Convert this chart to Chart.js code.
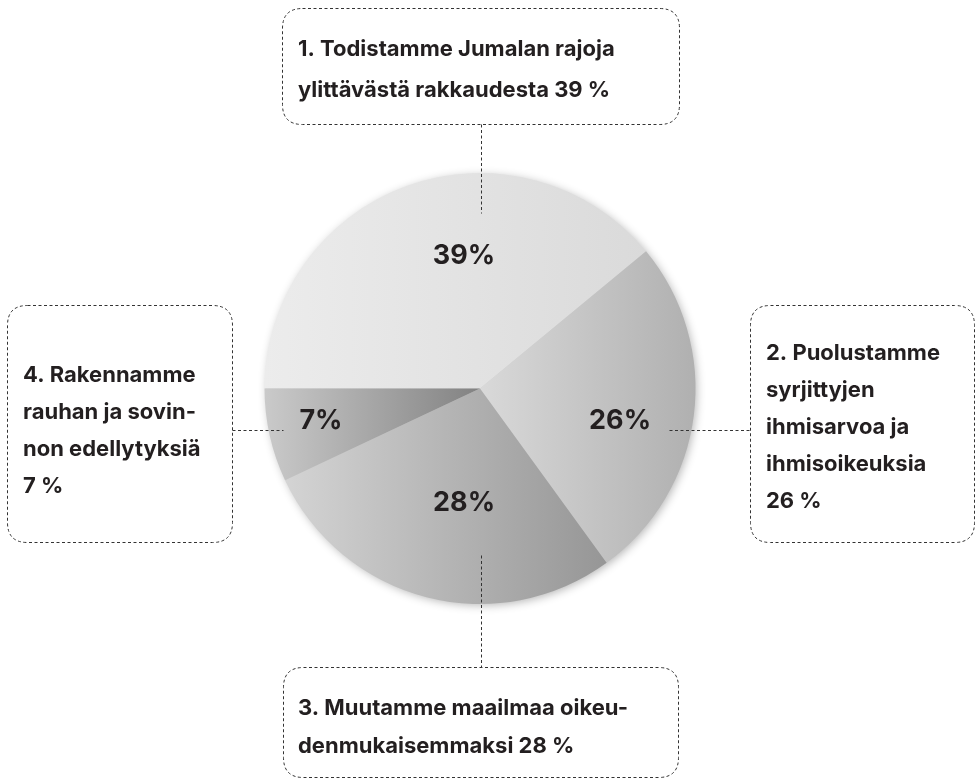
<!DOCTYPE html>
<html lang="fi">
<head>
<meta charset="utf-8">
<title>Painopisteet</title>
<script src="https://cdn.jsdelivr.net/npm/chart.js@4.4.1/dist/chart.umd.min.js"></script>
<style>
  html, body { margin: 0; padding: 0; background: #fff; }
  #wrap { width: 978px; height: 778px; }
</style>
</head>
<body>
<div id="wrap"><canvas id="chartPainopisteet" width="978" height="778"></canvas></div>
<script>
/* Painopisteet — piirakka ja selitelaatikot */

const nimet = [
  "Todistamme Jumalan rajoja ylittävästä rakkaudesta",
  "Puolustamme syrjittyjen ihmisarvoa ja ihmisoikeuksia",
  "Muutamme maailmaa oikeudenmukaisemmaksi",
  "Rakennamme rauhan ja sovinnon edellytyksiä",
];
const osuudet = [39, 26, 28, 7];
const tekstiRivit = [
  ["1. Todistamme Jumalan rajoja", "ylittävästä rakkaudesta 39 %"],
  ["2. Puolustamme", "syrjittyjen", "ihmisarvoa ja", "ihmisoikeuksia", "26 %"],
  ["3. Muutamme maailmaa oikeu-", "denmukaisemmaksi 28 %"],
  ["4. Rakennamme", "rauhan ja sovin-", "non edellytyksiä", "7 %"],
];

const vaaleat = ["#ececec", "#d9d9d9", "#d4d4d4", "#cacaca"];
const tummat = ["#dadada", "#b0b0b0", "#969696", "#828282"];
const TEKSTI = "#231f20";
const FONTTI = "Inter, 'Noto Sans', sans-serif";
const KIERTO = 270;

// prosenttien paikka suhteessa keskipisteeseen (säteen osina)
const PROSENTTI_PAIKKA = [[-0.074, -0.617], [0.65, 0.148], [-0.074, 0.529], [-0.738, 0.148]];

// selitelaatikot ja katkoviivat
const LAATIKOT = [
  { x: 282, y: 8, w: 397, h: 116, tx: 298, ty: 56, rivi: 41, viiva: [481, 124, 481, 213] },
  { x: 750, y: 305, w: 224, h: 237, tx: 766, ty: 360, rivi: 37, viiva: [669, 430, 750, 430] },
  { x: 283, y: 667, w: 395, h: 110, tx: 298, ty: 715, rivi: 38, viiva: [481, 555, 481, 667] },
  { x: 7, y: 305, w: 225, h: 237, tx: 23, ty: 382, rivi: 37, viiva: [232, 430, 283, 430] },
];

function liukuvari(ctx) {
  const chart = ctx.chart;
  const area = chart.chartArea;
  const i = ctx.dataIndex;
  if (!area) return vaaleat[i];
  const cx = (area.left + area.right) / 2;
  const r = Math.min(area.width, area.height) / 2;
  const summa = osuudet.reduce((a, b) => a + b, 0);
  let alku = (KIERTO - 90) * Math.PI / 180;
  for (let k = 0; k < i; k++) alku += (osuudet[k] / summa) * 2 * Math.PI;
  const loppu = alku + (osuudet[i] / summa) * 2 * Math.PI;
  let minX = cx, maxX = cx;
  for (let k = 0; k <= 60; k++) {
    const x = cx + r * Math.cos(alku + ((loppu - alku) * k) / 60);
    minX = Math.min(minX, x);
    maxX = Math.max(maxX, x);
  }
  const g = chart.ctx.createLinearGradient(minX, 0, maxX, 0);
  g.addColorStop(0, vaaleat[i]);
  g.addColorStop(1, tummat[i]);
  return g;
}

function pyoristettyLaatikko(c, x, y, w, h, r) {
  c.beginPath();
  c.moveTo(x + r, y);
  c.lineTo(x + w - r, y);
  c.quadraticCurveTo(x + w, y, x + w, y + r);
  c.lineTo(x + w, y + h - r);
  c.quadraticCurveTo(x + w, y + h, x + w - r, y + h);
  c.lineTo(x + r, y + h);
  c.quadraticCurveTo(x, y + h, x, y + h - r);
  c.lineTo(x, y + r);
  c.quadraticCurveTo(x, y, x + r, y);
  c.closePath();
}

const varjo = {
  id: "varjo",
  beforeDatasetsDraw(chart) {
    const arc = chart.getDatasetMeta(0).data[0];
    if (!arc) return;
    const c = chart.ctx;
    c.save();
    c.shadowColor = "rgba(0,0,0,0.3)";
    c.shadowBlur = 10;
    c.shadowOffsetX = 2;
    c.shadowOffsetY = 2;
    c.fillStyle = "#d0d0d0";
    c.beginPath();
    c.arc(arc.x, arc.y, arc.outerRadius - 1, 0, Math.PI * 2);
    c.fill();
    c.restore();
  },
};

const selitteet = {
  id: "selitteet",
  afterDatasetsDraw(chart) {
    const c = chart.ctx;
    const meta = chart.getDatasetMeta(0);
    const arc = meta.data[0];
    c.save();
    // prosentit piirakan päällä
    c.fillStyle = TEKSTI;
    c.font = "bold 27px " + FONTTI;
    c.textAlign = "center";
    c.textBaseline = "middle";
    osuudet.forEach((v, i) => {
      const [fx, fy] = PROSENTTI_PAIKKA[i];
      c.fillText(v + "%", arc.x + fx * arc.outerRadius, arc.y + fy * arc.outerRadius);
    });
    // katkoviivat ja laatikot
    c.strokeStyle = "#333";
    c.lineWidth = 1;
    c.setLineDash([3, 2.5]);
    LAATIKOT.forEach((b, i) => {
      const [x1, y1, x2, y2] = b.viiva;
      c.beginPath();
      c.moveTo(x1 + 0.5, y1 + 0.5);
      c.lineTo(x2 + 0.5, y2 + 0.5);
      c.stroke();
      pyoristettyLaatikko(c, b.x + 0.5, b.y + 0.5, b.w, b.h, 20);
      c.stroke();
      c.font = "bold 22px " + FONTTI;
      c.textAlign = "left";
      c.textBaseline = "alphabetic";
      tekstiRivit[i].forEach((rivi, j) => c.fillText(rivi, b.tx, b.ty + j * b.rivi));
    });
    c.restore();
  },
};

new Chart(document.getElementById("chartPainopisteet"), {
  type: "pie",
  data: {
    labels: nimet,
    datasets: [
      {
        data: osuudet,
        backgroundColor: liukuvari,
        borderWidth: 0,
      },
    ],
  },
  options: {
    responsive: false,
    animation: false,
    rotation: KIERTO,
    layout: { padding: { top: 173, bottom: 174, left: 100, right: 118 } },
    plugins: { legend: { display: false }, tooltip: { enabled: false } },
  },
  plugins: [varjo, selitteet],
});
</script>
</body>
</html>
